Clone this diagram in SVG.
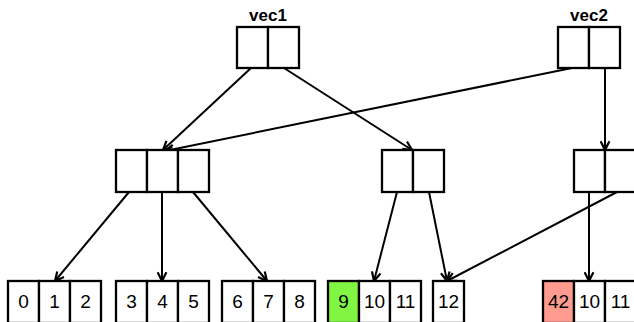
<svg xmlns="http://www.w3.org/2000/svg" width="634" height="322" viewBox="0 0 634 322">
<style>
.c{fill:#fff;stroke:#000;stroke-width:2.3}
.g{fill:#80f542;stroke:#000;stroke-width:2.3}
.r{fill:#ff9c8f;stroke:#000;stroke-width:2.3}
.t{font-family:"Liberation Sans",Arial,sans-serif;font-size:19px;fill:#000;text-anchor:middle}
.lbl{font-family:"Liberation Sans",Arial,sans-serif;font-size:17px;font-weight:bold;fill:#000;text-anchor:middle}
.e{fill:none;stroke:#000;stroke-width:2;marker-end:url(#ah)}
</style>
<defs>
<marker id="ah" viewBox="0 0 10 10" refX="9" refY="5" markerWidth="11" markerHeight="11" markerUnits="userSpaceOnUse" orient="auto">
<path d="M1,1 L9,5 L1,9" fill="none" stroke="#000" stroke-width="2"/>
</marker>
</defs>
<rect width="634" height="322" fill="#fff"/>
<g id="edges">
<line class="e" x1="251" y1="68" x2="163" y2="150"/>
<line class="e" x1="284" y1="68" x2="412" y2="150"/>
<line class="e" x1="572" y1="68" x2="165" y2="151"/>
<line class="e" x1="605" y1="68" x2="605" y2="150"/>
<line class="e" x1="129" y1="192" x2="55" y2="281"/>
<line class="e" x1="162" y1="192" x2="162" y2="281"/>
<line class="e" x1="193" y1="192" x2="267" y2="281"/>
<line class="e" x1="397" y1="192" x2="374" y2="281"/>
<line class="e" x1="429" y1="192" x2="447" y2="281"/>
<line class="e" x1="589" y1="192" x2="589" y2="281"/>
<line class="e" x1="617" y1="192" x2="447" y2="281"/>
</g>
<g id="vec1">
<text class="lbl" x="268" y="21">vec1</text>
<rect class="c" x="237" y="27" width="31" height="41"/>
<rect class="c" x="268" y="27" width="31" height="41"/>
</g>
<g id="vec2">
<text class="lbl" x="589" y="21">vec2</text>
<rect class="c" x="558" y="27" width="31" height="41"/>
<rect class="c" x="589" y="27" width="31" height="41"/>
</g>
<g id="nodeA">
<rect class="c" x="116" y="150" width="31" height="42"/>
<rect class="c" x="147" y="150" width="31" height="42"/>
<rect class="c" x="178" y="150" width="31" height="42"/>
</g>
<g id="nodeB">
<rect class="c" x="382" y="150" width="31" height="42"/>
<rect class="c" x="413" y="150" width="31" height="42"/>
</g>
<g id="nodeC">
<rect class="c" x="574" y="150" width="31" height="42"/>
<rect class="c" x="605" y="150" width="31" height="42"/>
</g>
<g id="leaf012">
<rect class="c" x="8" y="281" width="31" height="42"/>
<rect class="c" x="39" y="281" width="31" height="42"/>
<rect class="c" x="70" y="281" width="31" height="42"/>
<text class="t" x="23.5" y="308">0</text>
<text class="t" x="54.5" y="308">1</text>
<text class="t" x="85.5" y="308">2</text>
</g>
<g id="leaf345">
<rect class="c" x="116" y="281" width="31" height="42"/>
<rect class="c" x="147" y="281" width="31" height="42"/>
<rect class="c" x="178" y="281" width="31" height="42"/>
<text class="t" x="131.5" y="308">3</text>
<text class="t" x="162.5" y="308">4</text>
<text class="t" x="193.5" y="308">5</text>
</g>
<g id="leaf678">
<rect class="c" x="222" y="281" width="31" height="42"/>
<rect class="c" x="253" y="281" width="31" height="42"/>
<rect class="c" x="284" y="281" width="31" height="42"/>
<text class="t" x="237.5" y="308">6</text>
<text class="t" x="268.5" y="308">7</text>
<text class="t" x="299.5" y="308">8</text>
</g>
<g id="leaf91011">
<rect class="g" x="328" y="281" width="31" height="42"/>
<rect class="c" x="359" y="281" width="31" height="42"/>
<rect class="c" x="390" y="281" width="31" height="42"/>
<text class="t" x="343.5" y="308">9</text>
<text class="t" x="374.5" y="308">10</text>
<text class="t" x="405.5" y="308">11</text>
</g>
<g id="leaf12">
<rect class="c" x="433" y="281" width="31" height="42"/>
<text class="t" x="448.5" y="308">12</text>
</g>
<g id="leaf421011">
<rect class="r" x="543" y="281" width="31" height="42"/>
<rect class="c" x="574" y="281" width="31" height="42"/>
<rect class="c" x="605" y="281" width="31" height="42"/>
<text class="t" x="558.5" y="308">42</text>
<text class="t" x="589.5" y="308">10</text>
<text class="t" x="620.5" y="308">11</text>
</g>
</svg>
